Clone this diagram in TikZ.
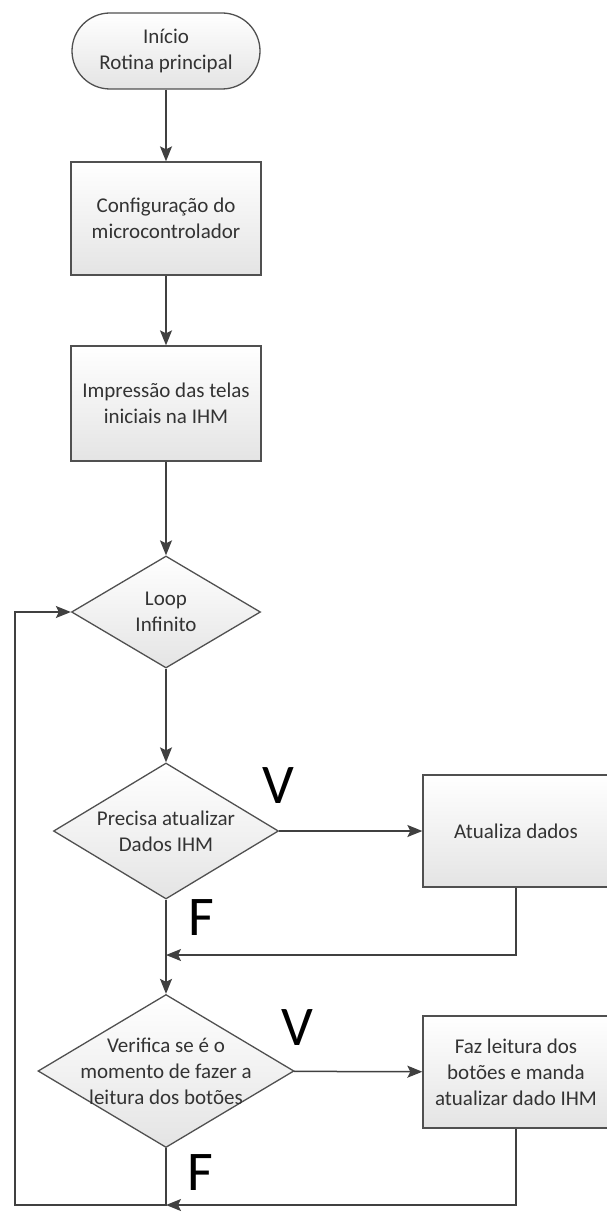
\documentclass[tikz,border=0pt]{standalone}
\usepackage{fontspec}
\setmainfont{Carlito}
\usetikzlibrary{shapes.geometric,arrows.meta}
\definecolor{edgec}{HTML}{505050}
\definecolor{linec}{HTML}{404040}
\definecolor{fillb}{HTML}{E4E4E4}
\definecolor{textc}{HTML}{333333}
\tikzset{
 shapebase/.style={draw=edgec, line width=1.3pt, top color=white, bottom color=fillb, inner sep=0pt},
 txt/.style={align=center, text=textc, font=\fontsize{21}{26}\selectfont, inner sep=0pt},
 procbox/.style={shapebase, rectangle, txt},
 decis/.style={shapebase, diamond},
 termin/.style={shapebase, rectangle, rounded corners=38pt, txt},
 flow/.style={draw=linec, line width=1.5pt, -{Stealth[length=15pt,width=12pt,inset=3pt]}},
 tf/.style={font=\fontsize{56}{60}\selectfont, inner sep=0pt, text=black}
}
\begin{document}
\begin{tikzpicture}[x=1pt,y=-1pt]
\useasboundingbox (0,0) rectangle (606,1214);
\fill[white] (0,0) rectangle (606,1214);
% nodes
\node[termin, minimum width=188pt, minimum height=76pt] (start) at (166,51) {Início\\Rotina principal};
\node[procbox, minimum width=190pt, minimum height=113pt] (config) at (166,218.5) {Configuração do\\microcontrolador};
\node[procbox, minimum width=190pt, minimum height=115pt] (impr) at (166,403.5) {Impressão das telas\\iniciais na IHM};
\node[decis, minimum width=189pt, minimum height=112pt] (loop) at (166,612) {};
\node[txt] (looptxt) at (loop.center) {Loop\\Infinito};
\node[decis, minimum width=225pt, minimum height=136pt] (precisa) at (166,831) {};
\node[txt] (precisatxt) at (precisa.center) {Precisa atualizar\\Dados IHM};
\node[procbox, minimum width=186pt, minimum height=112pt] (atual) at (516,831) {Atualiza dados};
\node[decis, minimum width=256pt, minimum height=153pt] (verif) at (166,1071) {};
\node[txt] (veriftxt) at (verif.center) {Verifica se é o\\momento de fazer a\\leitura dos botões};
\node[procbox, minimum width=186pt, minimum height=112pt] (faz) at (516,1072) {Faz leitura dos\\botões e manda\\atualizar dado IHM};
% labels
\node[tf] (v1) at (278,786) {V};
\node[tf] (v2) at (297,1028) {V};
\node[tf] (f1) at (201,918) {F};
\node[tf] (f2) at (200,1173) {F};
% coordinates
\coordinate (m1) at (166,955);
\coordinate (m2) at (166,1205);
\coordinate (bl) at (15,1205);
% connectors
\draw[flow] (start) -- (config);
\draw[flow] (config) -- (impr);
\draw[flow] (impr) -- (loop);
\draw[flow] (loop) -- (precisa);
\draw[flow] (precisa) -- (verif);
\draw[flow] (precisa) -- (atual);
\draw[flow] (verif) -- (faz);
\draw[flow] (atual.south) |- (m1);
\draw[flow] (faz.south) |- (m2);
\draw[flow] (verif.south) -- (m2) -- (bl) |- (loop.west);
\end{tikzpicture}
\end{document}
